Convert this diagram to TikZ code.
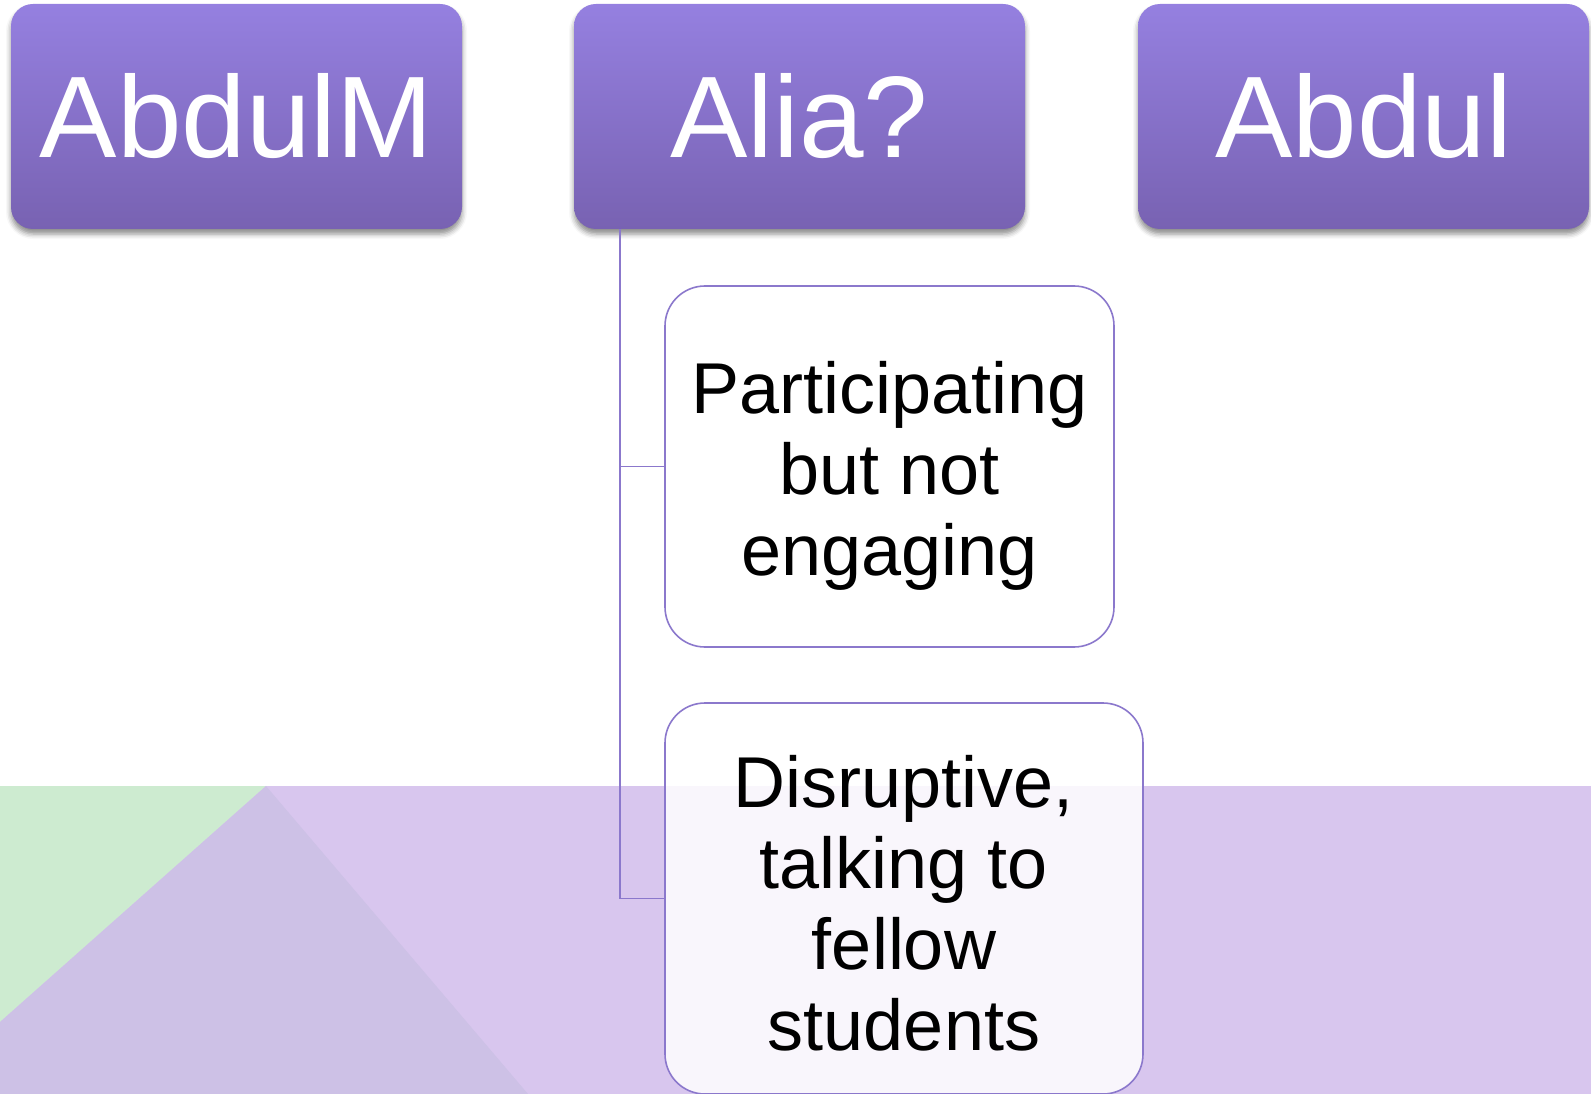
\documentclass[tikz,border=0pt]{standalone}
\usepackage{fontspec}
\setmainfont{Liberation Sans}
\usetikzlibrary{shadows.blur}

\definecolor{topcol}{HTML}{9580E0}
\definecolor{botcol}{HTML}{7862B2}
\definecolor{linecol}{HTML}{8B78CC}
\definecolor{bandcol}{HTML}{D8C6EE}
\definecolor{darkband}{HTML}{CDC1E6}
\definecolor{greenband}{HTML}{CDEBD0}

\begin{document}
\begin{tikzpicture}[x=1pt,y=-1pt,
        namebox/.style={rounded corners=22pt,minimum width=451pt,minimum height=225pt,
            top color=topcol,bottom color=botcol,text=white,
            blur shadow={shadow xshift=0pt,shadow yshift=-5pt,shadow blur radius=5pt,shadow opacity=45},
            font=\fontsize{116}{128}\selectfont},
        notebox/.style={draw=linecol,line width=1.6pt,rounded corners=40pt,align=center,
            font=\fontsize{72}{81}\selectfont},
        link/.style={draw=linecol,line width=1.6pt}]
        \useasboundingbox (0,0) rectangle (1591,1094);
        % background band
        \fill[bandcol] (0,786) rectangle (1591,1094);
        \fill[greenband] (0,786) -- (266,786) -- (0,1022) -- cycle;
        \fill[darkband] (266,786) -- (528,1094) -- (0,1094) -- (0,1022) -- cycle;

        \node[namebox] (abdulm) at (236.5,116.5) {AbdulM};
        \node[namebox] (alia) at (799.5,116.5) {Alia?};
        \node[namebox] (abdul) at (1363.5,116.5) {Abdul};

        \node[notebox,fill=white,minimum width=449pt,minimum height=361pt] (part) at (889.5,466.5)
            {\rule{0pt}{71pt}Participating\\but not\\engaging};
        \node[notebox,fill=white,fill opacity=0.85,text opacity=1,minimum width=478pt,minimum height=391pt] (disr) at (904,898.5)
            {\rule{0pt}{62pt}Disruptive,\\talking to\\fellow\\students};

        \coordinate (trunk) at (620,229);
        \draw[link] (trunk) |- (part.west);
        \draw[link] (trunk) |- (disr.west);
\end{tikzpicture}
\end{document}
